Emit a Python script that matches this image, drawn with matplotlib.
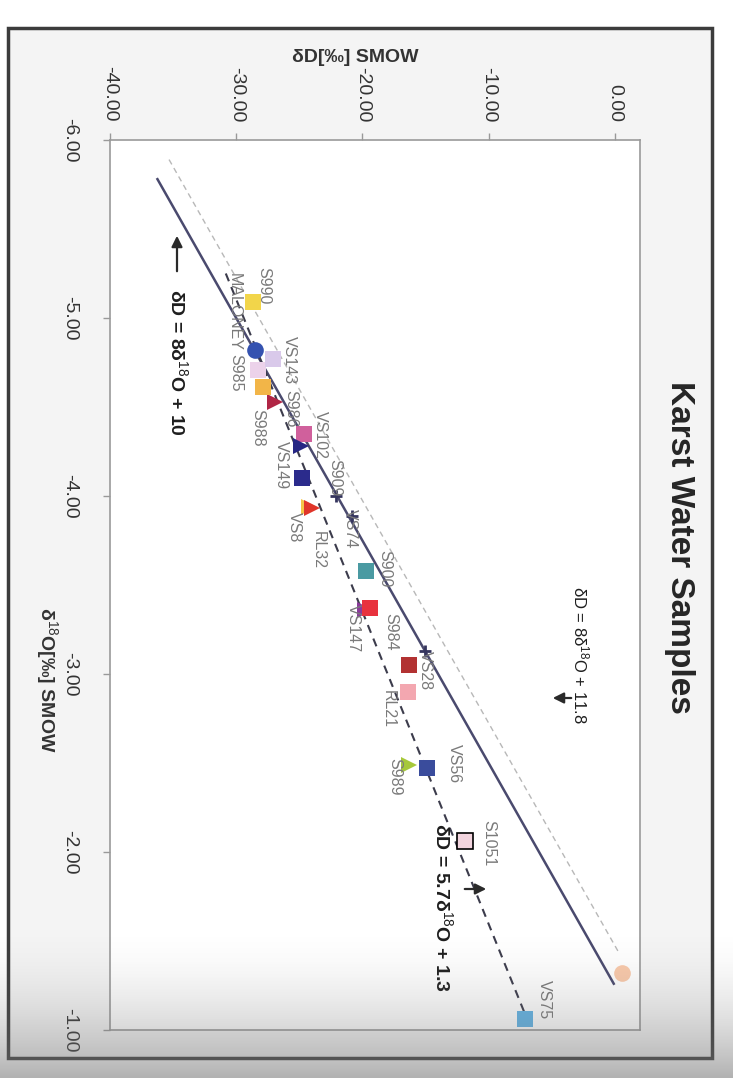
import numpy as np
import matplotlib
matplotlib.use("Agg")
import matplotlib.pyplot as plt
from matplotlib.patches import Rectangle

plt.rcParams['font.family'] = ['Liberation Sans', 'DejaVu Sans']
plt.rcParams['mathtext.fontset'] = 'custom'
plt.rcParams['mathtext.rm'] = 'Liberation Sans'
plt.rcParams['mathtext.it'] = 'Liberation Sans:italic'
plt.rcParams['mathtext.bf'] = 'Liberation Sans:bold'

W, H = 733, 1078

# samples
names = ['S990', 'MALONEY', 'S985', 'VS143', 'S986', 'S988', 'VS102', '',
         'VS149', 'S909', 'VS8', 'RL32', 'VS74', 'S900', 'VS147', 'S984',
         'VS28', '', 'RL21', 'S989', 'VS56', 'S1051', 'VS75', '']
d18o = [-5.09, -4.82, -4.71, -4.77, -4.53, -4.61, -4.35, -4.28,
        -4.10, -4.00, -3.94, -3.93, -3.89, -3.58, -3.36, -3.37,
        -3.13, -3.05, -2.90, -2.49, -2.47, -2.06, -1.06, -1.32]
dD = [-28.7, -28.5, -28.3, -27.1, -26.9, -27.85, -24.6, -24.9,
      -24.8, -22.1, -24.2, -24.0, -20.8, -19.7, -19.8, -19.4,
      -15.0, -16.3, -16.4, -16.3, -14.9, -11.9, -7.1, 0.6]

# marker styles per sample
markers = ['s', 'o', 's', 's', '>', 's', 's', '>',
           's', '+', '>', '>', '+', 's', '>', 's',
           '+', 's', 's', '>', 's', 's', 's', 'o']
colors = ['#f2d54a', '#3552b0', '#ecd2ea', '#d9c9ea', '#b02545', '#f2b548', '#d0609c', '#262684',
          '#2b2b8c', '#35355e', '#f5c548', '#e0352a', '#35355e', '#4a9aa2', '#8a3a9a', '#e8323e',
          '#35355e', '#b23232', '#f3a7b0', '#a6c83a', '#3a4c9c', '#f2d4de', '#62b4e6', '#f9c9aa']
# label offsets (pixels, right / down)
lab_dx = [11, -21, -22, 17, 15, -6, 16, 0,
          -20, -1, -15, 6, -2, 19, -11, 21,
          0, 0, -20, -14, 28, 24, 19, 0]
lab_dy = [-16, -38, 3, 1, 7, 40, 1, 0,
          -13, -18, 21, 42, 13, -2, 18, 24,
          20, 0, 17, 12, -5, 2, -20, 0]

# reference lines: slope, intercept, d18O start, d18O end
line_slope = [8.0, 8.0, 5.7]
line_icpt = [10.0, 11.8, -0.9]
line_start = [-5.78, -5.89, -5.25]
line_end = [-1.26, -1.43, -0.98]

dD_ticks = [-40, -30, -20, -10, 0]
d18o_ticks = [-6, -5, -4, -3, -2, -1]


def img(x, y):
    return x / W, 1 - y / H


fig = plt.figure(figsize=(W / 100, H / 100), dpi=100)
fig.patch.set_facecolor('white')
fig.patches.append(Rectangle(img(8, 1058), 704 / W, 1030 / H, transform=fig.transFigure,
                             facecolor='#f4f4f4', edgecolor='#3c3c3c', lw=2.5, zorder=-5))

ax = fig.add_axes([110 / W, 1 - 1030 / H, 530 / W, 890 / H])
ax.set_facecolor('white')
ax.set_xlim(-40, 2)
ax.set_ylim(-1, -6)

styles = [dict(color='#4a4a6e', lw=1.8, ls='-'),
          dict(color='#b8b8b8', lw=1.0, ls=(0, (4, 3))),
          dict(color='#3c3c4c', lw=1.5, ls=(0, (4, 3)))]
for k in range(3):
    xs = np.array([line_start[k], line_end[k]])
    ax.plot(line_slope[k] * xs + line_icpt[k], xs, **styles[k], zorder=2)

for i in range(len(names)):
    ec = 'black' if names[i] == 'S1051' else 'none'
    if markers[i] == '+':
        ax.plot(dD[i], d18o[i], marker='+', color=colors[i], ms=9, mew=2, ls='none', zorder=4)
    else:
        ax.plot(dD[i], d18o[i], marker=markers[i], color=colors[i], ms=12, mec=ec, mew=1.2,
                ls='none', zorder=3)
    if names[i]:
        ax.annotate(names[i], (dD[i], d18o[i]), xytext=(lab_dx[i] * 0.72, -lab_dy[i] * 0.72),
                    textcoords='offset points', ha='center', va='center', rotation=-90,
                    fontsize=11.5, color='#7a7a7a', zorder=5)

ax.xaxis.tick_top()
ax.set_xticks(dD_ticks)
ax.set_xticklabels([f'{t:.2f}' for t in dD_ticks], rotation=-90)
ax.set_yticks(d18o_ticks)
ax.set_yticklabels([f'{t:.2f}' for t in d18o_ticks], rotation=-90, va='center')
ax.tick_params(axis='both', direction='out', length=5, width=1, color='#999999',
               labelsize=14, labelcolor='#333333')
ax.tick_params(axis='x', pad=8)
ax.tick_params(axis='y', pad=18)
for s in ax.spines.values():
    s.set_color('#9a9a9a')
    s.set_linewidth(1.2)

# titles
fig.text(*img(680, 547), 'Karst Water Samples', rotation=-90, ha='center', va='center',
         fontsize=24, fontweight='bold', color='#262626')
fig.text(*img(355, 58), 'δD[‰] SMOW', ha='center', va='center',
         fontsize=14, fontweight='bold', color='#333333')
fig.text(*img(47, 680), 'δ$^{18}$O[‰] SMOW', rotation=-90, ha='center', va='center',
         fontsize=14, fontweight='bold', color='#333333')

# equations and arrows
fig.text(*img(178, 362), 'δD = 8δ$^{18}$O + 10', rotation=-90, ha='center', va='center',
         fontsize=14, fontweight='bold', color='#1e1e1e')
fig.text(*img(581, 655), 'δD = 8δ$^{18}$O + 11.8', rotation=-90, ha='center', va='center',
         fontsize=12, color='#1e1e1e')
fig.text(*img(443, 907), 'δD = 5.7δ$^{18}$O + 1.3', rotation=-90, ha='center', va='center',
         fontsize=14, fontweight='bold', color='#1e1e1e')
arrows = [((177, 233), (177, 274)), ((550, 698), (574, 698)), ((489, 889), (462, 889))]
for head, tail in arrows:
    ax.annotate('', xy=img(*head), xycoords='figure fraction', xytext=img(*tail),
                textcoords='figure fraction', annotation_clip=False,
                arrowprops=dict(arrowstyle='-|>', color='#2a2a2a', lw=1.6, mutation_scale=16))

# scanner shading at the bottom
gax = fig.add_axes([0, 0, 1, 151 / H], zorder=10)
t = np.linspace(0, 1, 200)[:, None]
shade = np.zeros((200, 2, 4))
shade[..., :3] = 0.45
shade[..., 3] = 0.55 * t ** 1.8
gax.imshow(shade, aspect='auto', extent=(0, 1, 0, 1))
gax.axis('off')

fig.savefig('out.png', dpi=100)
